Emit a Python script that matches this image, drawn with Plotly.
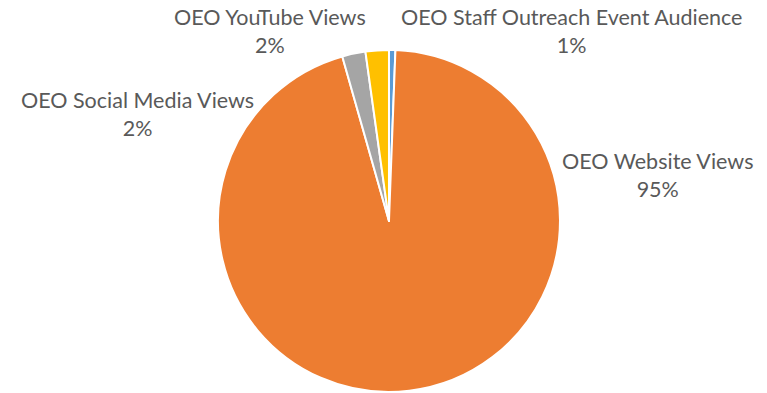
import plotly.graph_objects as go

# Audience reach by channel
labels = [
    "OEO Staff Outreach Event Audience",
    "OEO Website Views",
    "OEO Social Media Views",
    "OEO YouTube Views",
]
values = [0.6, 95.0, 2.2, 2.2]
colors = ["#5B9BD5", "#ED7D31", "#A5A5A5", "#FFC000"]

# Label anchor points (paper coordinates) for the outside callouts
label_x = [0.745, 0.857, 0.179, 0.352]
label_y = [0.920, 0.555, 0.710, 0.920]

total = sum(values)

fig = go.Figure(
    go.Pie(
        labels=labels,
        values=values,
        sort=False,
        direction="clockwise",
        rotation=0,
        marker=dict(colors=colors, line=dict(color="white", width=2)),
        textinfo="none",
        hoverinfo="label+percent",
        domain=dict(x=[0.2842, 0.7301], y=[0.0026, 0.8728]),
        showlegend=False,
    )
)

for lab, v, x, y in zip(labels, values, label_x, label_y):
    fig.add_annotation(
        x=x,
        y=y,
        xref="paper",
        yref="paper",
        text=f"{lab}<br>{round(100 * v / total)}%",
        showarrow=False,
        align="center",
        xanchor="center",
        yanchor="middle",
        font=dict(family="Lato", size=21.5, color="#595959"),
    )

fig.update_layout(
    width=767,
    height=393,
    margin=dict(l=0, r=0, t=0, b=0),
    paper_bgcolor="white",
    plot_bgcolor="white",
)

fig.write_html("out.html")
